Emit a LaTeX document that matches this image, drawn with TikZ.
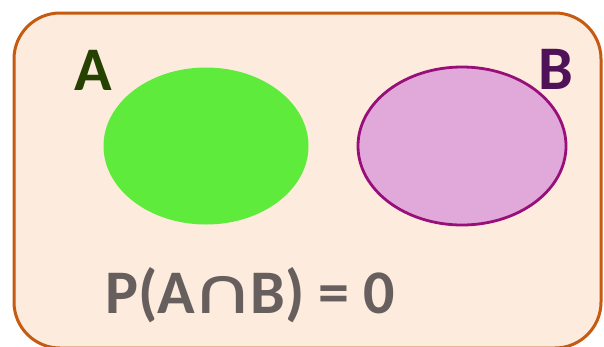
\documentclass[tikz,border=0pt]{standalone}
\usepackage{fontspec}
\usetikzlibrary{shapes.geometric}
\setmainfont{Carlito}
\newfontfamily\symfont{DejaVu Sans}
\definecolor{peach}{HTML}{FDEBDD}
\definecolor{rim}{HTML}{C55A11}
\definecolor{agreen}{HTML}{5FEB3C}
\definecolor{adark}{HTML}{264200}
\definecolor{bfill}{HTML}{E1A9DA}
\definecolor{brim}{HTML}{980F7A}
\definecolor{bdark}{HTML}{4F1157}
\definecolor{formula}{HTML}{675F5D}
\begin{document}
\begin{tikzpicture}[x=1pt,y=-1pt,
  lbl/.style={font=\fontsize{62}{62}\selectfont\bfseries, inner sep=0pt}]
\useasboundingbox (0,0) rectangle (604,346);
\fill[white] (0,0) rectangle (604,346);
\begin{scope}
\clip (0,0) rectangle (604,346);
\draw[rim, fill=peach, line width=3pt, rounded corners=46pt] (14,13) rectangle (601,348);
\end{scope}
\node[ellipse, fill=agreen, minimum width=205pt, minimum height=157pt, inner sep=0pt] (ea) at (206,146) {};
\node[draw=brim, line width=2.8pt, fill=bfill, ellipse, minimum width=208pt, minimum height=158pt, inner sep=0pt] (eb) at (462,146) {};
\node[lbl, text=adark] (la) at (93,70) {A};
\node[lbl, text=bdark] (lb) at (556,69) {B};
\node[lbl, text=formula] (f) at (250,295) {P(A{\symfont\mdseries\fontsize{64}{64}\selectfont\kern-4pt\scalebox{1.35}[1]{∩}\kern-4pt}B) = 0};
\end{tikzpicture}
\end{document}
